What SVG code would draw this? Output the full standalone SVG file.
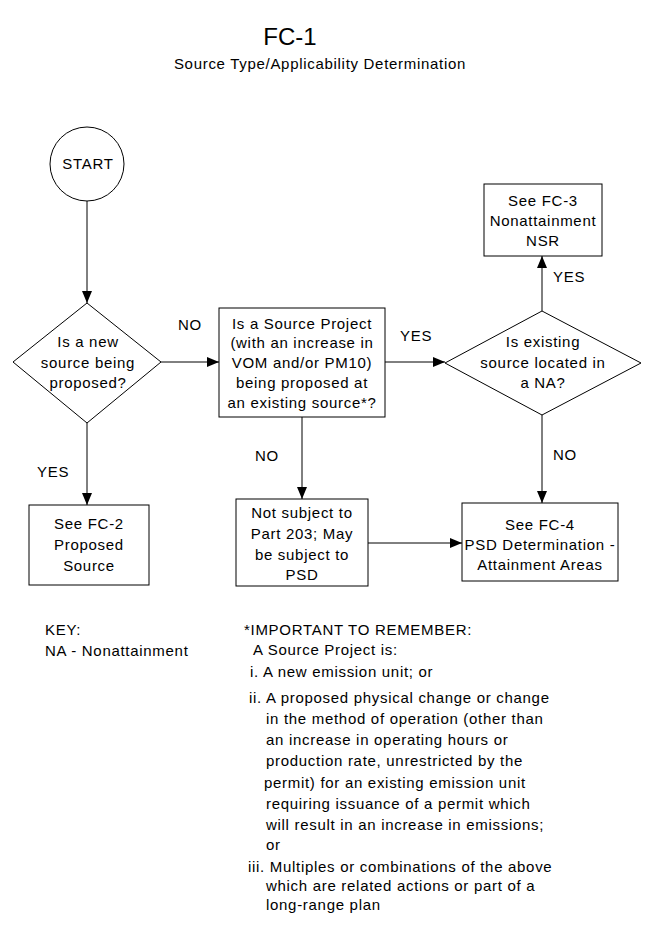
<svg xmlns="http://www.w3.org/2000/svg" width="659" height="925" viewBox="0 0 659 925">
<style>
text{font-family:"Liberation Sans",Arial,sans-serif;font-size:15px;fill:#000;letter-spacing:0.7px}
.c{text-anchor:middle}
.shape{fill:#fff;stroke:#000;stroke-width:1}
.ln{fill:none;stroke:#000;stroke-width:1}
.title{font-size:24px;letter-spacing:0}
</style>
<defs>
<marker id="ah" markerWidth="12" markerHeight="10" refX="12" refY="5" orient="auto" markerUnits="userSpaceOnUse">
<path d="M0,0 L12,5 L0,10 Z" fill="#000"/>
</marker>
</defs>
<rect width="659" height="925" fill="#fff"/>
<g id="title">
<text class="title c" x="290" y="45">FC-1</text>
<text class="c" x="320" y="69">Source Type/Applicability Determination</text>
</g>
<g id="connectors">
<line class="ln" x1="87" y1="201" x2="87" y2="303" marker-end="url(#ah)"/>
<line class="ln" x1="161" y1="362" x2="219" y2="362" marker-end="url(#ah)"/>
<line class="ln" x1="87" y1="423" x2="87" y2="505" marker-end="url(#ah)"/>
<line class="ln" x1="385" y1="362" x2="445" y2="362" marker-end="url(#ah)"/>
<line class="ln" x1="302" y1="417" x2="302" y2="499" marker-end="url(#ah)"/>
<line class="ln" x1="542" y1="311" x2="542" y2="256" marker-end="url(#ah)"/>
<line class="ln" x1="542" y1="415" x2="542" y2="503" marker-end="url(#ah)"/>
<line class="ln" x1="368" y1="543" x2="462" y2="543" marker-end="url(#ah)"/>
<text x="178" y="330">NO</text>
<text x="37" y="477">YES</text>
<text x="400" y="341">YES</text>
<text x="255" y="461">NO</text>
<text x="553" y="282">YES</text>
<text x="553" y="460">NO</text>
</g>
<g id="start">
<circle class="shape" cx="87" cy="164" r="37"/>
<text class="c" x="88" y="169">START</text>
</g>
<g id="new-source">
<polygon class="shape" points="87,303 161,362 87,423 13,362"/>
<text class="c" x="88" y="347">Is a new</text>
<text class="c" x="88" y="368">source being</text>
<text class="c" x="88" y="388">proposed?</text>
</g>
<g id="fc2">
<rect class="shape" x="29" y="505" width="120" height="80"/>
<text class="c" x="89" y="529">See FC-2</text>
<text class="c" x="89" y="550">Proposed</text>
<text class="c" x="89" y="571">Source</text>
</g>
<g id="source-project">
<rect class="shape" x="219" y="308" width="166" height="109"/>
<text class="c" x="302" y="329">Is a Source Project</text>
<text class="c" x="302" y="348">(with an increase in</text>
<text class="c" x="302" y="368">VOM and/or PM10)</text>
<text class="c" x="302" y="388">being proposed at</text>
<text class="c" x="302" y="408">an existing source*?</text>
</g>
<g id="not-subject">
<rect class="shape" x="236" y="499" width="132" height="87"/>
<text class="c" x="302" y="518">Not subject to</text>
<text class="c" x="302" y="539">Part 203; May</text>
<text class="c" x="302" y="560">be subject to</text>
<text class="c" x="302" y="580">PSD</text>
</g>
<g id="na-decision">
<polygon class="shape" points="542,311 641,363 542,415 445,363"/>
<text class="c" x="543" y="347">Is existing</text>
<text class="c" x="543" y="368">source located in</text>
<text class="c" x="543" y="388">a NA?</text>
</g>
<g id="fc3">
<rect class="shape" x="484" y="184" width="118" height="72"/>
<text class="c" x="543" y="206">See FC-3</text>
<text class="c" x="543" y="226">Nonattainment</text>
<text class="c" x="543" y="246">NSR</text>
</g>
<g id="fc4">
<rect class="shape" x="462" y="503" width="156" height="78"/>
<text class="c" x="540" y="530">See FC-4</text>
<text class="c" x="540" y="550">PSD Determination -</text>
<text class="c" x="540" y="570">Attainment Areas</text>
</g>
<g id="key">
<text x="45" y="635">KEY:</text>
<text x="45" y="656">NA - Nonattainment</text>
</g>
<g id="notes">
<text x="244" y="635">*IMPORTANT TO REMEMBER:</text>
<text x="253" y="655">A Source Project is:</text>
<text x="250" y="677">i. A new emission unit; or</text>
<text x="249" y="703">ii. A proposed physical change or change</text>
<text x="266" y="724">in the method of operation (other than</text>
<text x="266" y="745">an increase in operating hours or</text>
<text x="266" y="766">production rate, unrestricted by the</text>
<text x="264" y="788">permit) for an existing emission unit</text>
<text x="266" y="809">requiring issuance of a permit which</text>
<text x="266" y="830">will result in an increase in emissions;</text>
<text x="266" y="850">or</text>
<text x="248" y="872">iii. Multiples or combinations of the above</text>
<text x="266" y="891">which are related actions or part of a</text>
<text x="266" y="910">long-range plan</text>
</g>
</svg>
